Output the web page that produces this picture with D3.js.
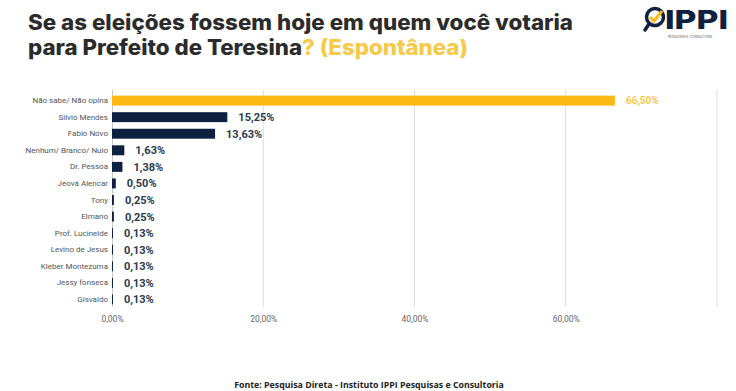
<!DOCTYPE html>
<html>
<head>
<meta charset="utf-8">
<script src="https://cdn.jsdelivr.net/npm/d3@7"></script>
<style>
  body { margin: 0; background: #fff; }
  svg { display: block; }
</style>
</head>
<body>
<svg id="chart" width="736" height="391"></svg>
<script>
// data
var categories = ["Não sabe/ Não opina", "Silvio Mendes", "Fabio Novo", "Nenhum/ Branco/ Nulo",
  "Dr. Pessoa", "Jeová Alencar", "Tony", "Elmano", "Prof. Lucineide", "Levino de Jesus",
  "Kleber Montezuma", "Jessy fonseca", "Gisvaldo"];
var values = [66.50, 15.25, 13.63, 1.63, 1.38, 0.50, 0.25, 0.25, 0.13, 0.13, 0.13, 0.13, 0.13];
var tickValues = [0, 20, 40, 60, 80];
var tickLabels = ["0,00%", "20,00%", "40,00%", "60,00%", ""];

var navy = "#0f2140", yellow = "#fdb913";

var svg = d3.select("#chart");

// title (stretched a bit, the original font is wider)
var title = svg.append("g")
  .attr("font-family", "Inter, 'Open Sans', sans-serif")
  .attr("font-weight", 800)
  .attr("font-size", 21)
  .attr("fill", "#2b2b2b");
title.append("text").attr("x", 28).attr("y", 30)
  .attr("textLength", 545).attr("lengthAdjust", "spacingAndGlyphs")
  .text("Se as eleições fossem hoje em quem você votaria");
var l2 = title.append("text").attr("x", 28).attr("y", 55)
  .attr("textLength", 440).attr("lengthAdjust", "spacingAndGlyphs");
l2.append("tspan").text("para Prefeito de Teresina");
l2.append("tspan").attr("fill", "#f7c948").text("? (Espontânea)");

// logo
var logo = svg.append("g").attr("transform", "translate(644,5)");
logo.append("circle").attr("cx", 11).attr("cy", 12).attr("r", 8.5)
  .attr("fill", "none").attr("stroke", navy).attr("stroke-width", 3.5);
logo.append("line").attr("x1", 5).attr("y1", 19).attr("x2", 1).attr("y2", 25)
  .attr("stroke", navy).attr("stroke-width", 3.5).attr("stroke-linecap", "round");
logo.append("path").attr("d", "M6,12 L10,16 L18,6")
  .attr("fill", "none").attr("stroke", yellow).attr("stroke-width", 3);
logo.append("text").attr("x", 21).attr("y", 24)
  .attr("font-family", "Inter, sans-serif").attr("font-weight", 800)
  .attr("font-size", 26).attr("fill", navy)
  .attr("textLength", 63).attr("lengthAdjust", "spacingAndGlyphs").text("IPPI");
logo.append("text").attr("x", 24).attr("y", 33)
  .attr("font-family", "Inter, sans-serif").attr("font-size", 3.2)
  .attr("fill", "#555").text("PESQUISAS E CONSULTORIA");

var margin = { top: 89, left: 112 },
    width = 605, height = 222;

var g = svg.append("g").attr("transform", "translate(" + margin.left + "," + margin.top + ")");

var x = d3.scaleLinear().domain([0, 80]).range([0, width]);
var y = d3.scaleBand().domain(categories).range([0, height]).padding(0.4);

// gridlines
g.selectAll(".grid").data(tickValues.slice(1)).enter().append("line")
  .attr("class", "grid")
  .attr("x1", function (d) { return x(d); }).attr("x2", function (d) { return x(d); })
  .attr("y1", 1).attr("y2", height - 4)
  .attr("stroke", "#dcdcdc").attr("stroke-width", 1);

// x axis labels
var gx = g.append("g")
  .attr("transform", "translate(0," + (height + 2) + ")")
  .call(d3.axisBottom(x).tickValues(tickValues)
    .tickFormat(function (d, i) { return tickLabels[i]; }).tickSize(0));
gx.select(".domain").remove();
gx.selectAll("text").attr("font-family", "Roboto, sans-serif")
  .attr("font-size", 8.5).attr("fill", "#666");

// y axis
var gy = g.append("g")
  .call(d3.axisLeft(y).tickSize(0).tickPadding(4));
gy.select(".domain").attr("stroke", "#c8c8c8").attr("d", "M0.5,1V" + (height - 4));
gy.selectAll("text").attr("font-family", "Roboto, sans-serif")
  .attr("font-size", 8).attr("fill", "#555");

// bars
g.selectAll(".bar").data(values).enter().append("rect")
  .attr("class", "bar")
  .attr("x", 0)
  .attr("y", function (d, i) { return y(categories[i]); })
  .attr("width", function (d) { return x(d); })
  .attr("height", y.bandwidth())
  .attr("fill", function (d, i) { return i == 0 ? yellow : navy; });

// value labels
g.selectAll(".bartext").data(values).enter().append("text")
  .attr("class", "bartext")
  .attr("x", function (d) { return x(d) + 11; })
  .attr("y", function (d, i) { return y(categories[i]) + y.bandwidth() / 2; })
  .attr("dy", "0.36em")
  .attr("font-family", "Roboto, sans-serif")
  .attr("font-weight", 700)
  .attr("font-size", function (d, i) { return i == 0 ? 10 : 11; })
  .attr("fill", function (d, i) { return i == 0 ? "#f7c948" : "#2d3a4f"; })
  .text(function (d) { return d.toFixed(2).replace(".", ",") + "%"; });

// footer
svg.append("text").attr("x", 369).attr("y", 388)
  .attr("text-anchor", "middle")
  .attr("font-family", "'Open Sans', sans-serif").attr("font-weight", 700)
  .attr("font-size", 8.8).attr("fill", "#222")
  .text("Fonte: Pesquisa Direta - Instituto IPPI Pesquisas e Consultoria");
</script>
</body>
</html>
